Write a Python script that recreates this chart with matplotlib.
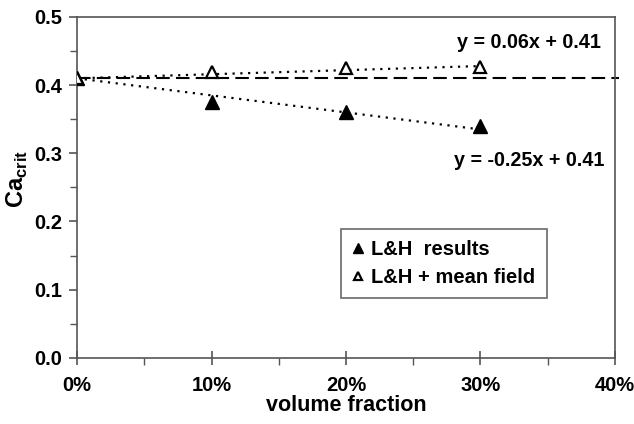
import numpy as np
import matplotlib
matplotlib.use("Agg")
import matplotlib.pyplot as plt
from matplotlib.ticker import MultipleLocator, FuncFormatter

plt.rcParams['font.family'] = ['Liberation Sans', 'DejaVu Sans']
plt.rcParams['font.weight'] = 'bold'
plt.rcParams['mathtext.fontset'] = 'custom'
plt.rcParams['mathtext.rm'] = 'Liberation Sans:bold'
plt.rcParams['mathtext.bf'] = 'Liberation Sans:bold'

# critical capillary number vs volume fraction
vol_frac = [0.0, 0.10, 0.20, 0.30]
ca_lh = [0.41, 0.376, 0.360, 0.340]
ca_mf = [0.41, 0.419, 0.425, 0.427]
ca_ref = 0.41

# linear trendlines (slope, intercept)
fit_lh = (-0.25, 0.41)
fit_mf = (0.06, 0.41)

fig = plt.figure(figsize=(6.34, 4.24), dpi=100)
ax = fig.add_axes([0.1215, 0.156, 0.8485, 0.804])

spine_col = '#555555'
for s in ax.spines.values():
    s.set_color(spine_col)
    s.set_linewidth(1.2)

# reference level
ax.plot([0, 0.403], [ca_ref, ca_ref], ls=(0, (6.5, 3)), color='black', lw=1.5,
        clip_on=False, zorder=2)

# trendlines
xt = np.array([vol_frac[0], vol_frac[-1]])
ax.plot(xt, fit_lh[0] * xt + fit_lh[1], ls=(0, (1, 2.5)), color='black', lw=1.6, zorder=3)
ax.plot(xt, fit_mf[0] * xt + fit_mf[1], ls=(0, (1, 2.5)), color='black', lw=1.6, zorder=3)

ax.plot(vol_frac, ca_lh, ls='none', marker='^', ms=10, mfc='black', mec='black',
        label='L&H  results', zorder=4)
ax.plot(vol_frac, ca_mf, ls='none', marker='^', ms=8, mfc='white', mec='black',
        mew=1.6, label='L&H + mean field', zorder=4)

ax.set_xlim(0, 0.4)
ax.set_ylim(0, 0.5)
ax.xaxis.set_major_locator(MultipleLocator(0.1))
ax.xaxis.set_minor_locator(MultipleLocator(0.05))
ax.yaxis.set_major_locator(MultipleLocator(0.1))
ax.yaxis.set_minor_locator(MultipleLocator(0.05))
ax.xaxis.set_major_formatter(FuncFormatter(lambda v, p: f"{v*100:.0f}%"))
ax.yaxis.set_major_formatter(FuncFormatter(lambda v, p: f"{v:.1f}"))
ax.tick_params(axis='x', which='major', direction='inout', length=10, width=1.2,
               color=spine_col, labelsize=14.5, pad=8)
ax.tick_params(axis='x', which='minor', direction='out', length=5, width=1,
               color=spine_col)
ax.tick_params(axis='y', which='major', direction='out', length=6, width=1.2,
               color=spine_col, labelsize=14.5, pad=5)
ax.tick_params(axis='y', which='minor', direction='out', length=5, width=1,
               color=spine_col)

ax.set_xlabel('volume fraction', fontsize=15.5, fontweight='bold', labelpad=0)
ax.set_ylabel(r'Ca$_{\mathrm{crit}}$', fontsize=17, fontweight='bold')
ax.yaxis.set_label_coords(-0.088, 0.525)

ax.text(0.336, 0.463, f"y = {fit_mf[0]:.2f}x + {fit_mf[1]:.2f}", fontsize=14.2,
        fontweight='bold', ha='center', va='center')
ax.text(0.336, 0.290, f"y = {fit_lh[0]:.2f}x + {fit_lh[1]:.2f}", fontsize=14.2,
        fontweight='bold', ha='center', va='center')

leg = ax.legend(loc='upper left', bbox_to_anchor=(0.491, 0.378), fontsize=14.5,
                frameon=True, fancybox=False, edgecolor='#444444',
                handlelength=0.6, handletextpad=0.35, borderpad=0.55,
                labelspacing=0.45, markerscale=0.65, borderaxespad=0)
leg.get_frame().set_linewidth(1.2)

fig.savefig('out.png', dpi=100)
